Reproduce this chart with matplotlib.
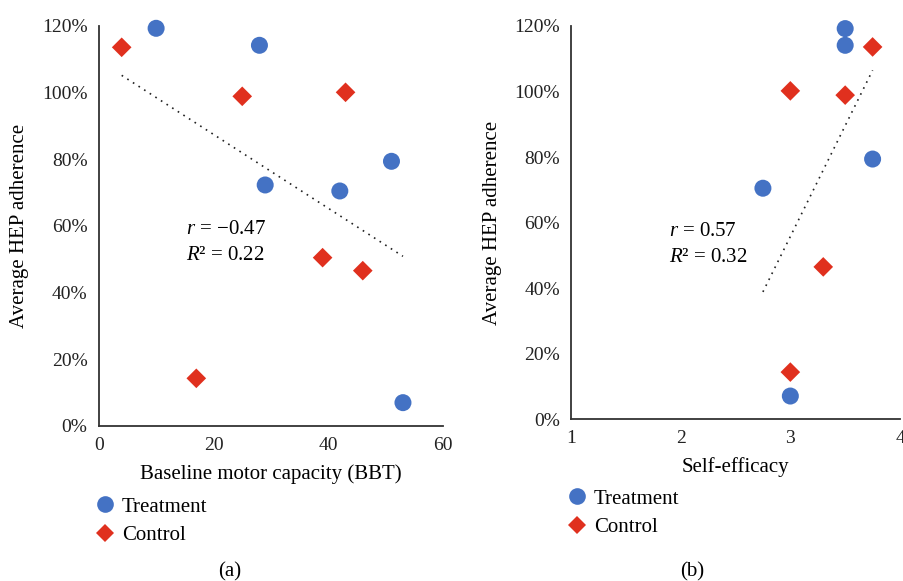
import numpy as np
import matplotlib
matplotlib.use("Agg")
import matplotlib.pyplot as plt
from matplotlib.lines import Line2D
from matplotlib.ticker import PercentFormatter

plt.rcParams['font.family'] = ['Liberation Serif', 'DejaVu Serif']
plt.rcParams['mathtext.fontset'] = 'custom'
plt.rcParams['mathtext.rm'] = 'Liberation Serif'
plt.rcParams['mathtext.it'] = 'Liberation Serif:italic'

# Panel (a): baseline motor capacity (BBT) vs adherence
bbt_treat = [10, 28, 29, 42, 51, 53]
adh_treat_a = [119.3, 114.2, 72.3, 70.5, 79.4, 7.0]
bbt_ctrl = [4, 25, 43, 17, 39, 46]
adh_ctrl_a = [113.6, 98.9, 100.1, 14.3, 50.5, 46.6]

# Panel (b): self-efficacy vs adherence
se_treat = [3.5, 3.5, 3.75, 2.75, 3.0]
adh_treat_b = [119.2, 114.1, 79.4, 70.5, 7.1]
se_ctrl = [3.75, 3.0, 3.5, 3.3, 3.0]
adh_ctrl_b = [113.6, 100.2, 98.9, 46.5, 14.4]

stats_a = ("$r$ = \u22120.47", "$R$\u00b2 = 0.22")
stats_b = ("$r$ = 0.57", "$R$\u00b2 = 0.32")

BLUE = '#4472C4'
RED = '#E0301E'
SPINE = '#333333'
FS = 15
TFS = 14

fig = plt.figure(figsize=(9.04, 5.81), dpi=100)
axA = fig.add_axes([0.1092, 0.2668, 0.381, 0.6885])
axB = fig.add_axes([0.6316, 0.2783, 0.364, 0.677])


def style(ax, xlim, xticks):
    ax.set_xlim(*xlim)
    ax.set_ylim(0, 120)
    ax.set_xticks(xticks)
    ax.set_yticks(np.arange(0, 121, 20))
    ax.yaxis.set_major_formatter(PercentFormatter(decimals=0))
    for s in ('top', 'right'):
        ax.spines[s].set_visible(False)
    for s in ('left', 'bottom'):
        ax.spines[s].set_color(SPINE)
        ax.spines[s].set_linewidth(1.3)
    ax.tick_params(length=0, labelsize=TFS, colors='#222222', pad=8)


def panel(ax, xt, yt, xc, yc):
    xs = np.array(xt + xc, dtype=float)
    ys = np.array(yt + yc, dtype=float)
    m, b = np.polyfit(xs, ys, 1)
    xx = np.array([xs.min(), xs.max()])
    ax.plot(xx, m * xx + b, linestyle=(0, (1, 3)), color='#222222', lw=1.2, zorder=1)
    ax.scatter(xt, yt, s=150, marker='o', color=BLUE, edgecolors='none', zorder=3, clip_on=False)
    ax.scatter(xc, yc, s=100, marker='D', color=RED, edgecolors='none', zorder=3, clip_on=False)


panel(axA, bbt_treat, adh_treat_a, bbt_ctrl, adh_ctrl_a)
panel(axB, se_treat, adh_treat_b, se_ctrl, adh_ctrl_b)
style(axA, (0, 60), [0, 20, 40, 60])
style(axB, (1, 4), [1, 2, 3, 4])

axA.set_xlabel('Baseline motor capacity (BBT)', fontsize=FS, labelpad=7)
axB.set_xlabel('Self-efficacy', fontsize=FS, labelpad=7)
axA.set_ylabel('Average HEP adherence', fontsize=FS, labelpad=9)
axB.set_ylabel('Average HEP adherence', fontsize=FS, labelpad=9)

axA.text(15.2, 58.8, stats_a[0], fontsize=FS, va='center', ha='left')
axA.text(15.2, 51.0, stats_a[1], fontsize=FS, va='center', ha='left')
axB.text(1.89, 57.2, stats_b[0], fontsize=FS, va='center', ha='left')
axB.text(1.89, 49.5, stats_b[1], fontsize=FS, va='center', ha='left')

handles = [Line2D([], [], marker='o', ls='none', color=BLUE, markersize=12, markeredgewidth=0),
           Line2D([], [], marker='D', ls='none', color=RED, markersize=9, markeredgewidth=0)]
labels = ['Treatment', 'Control']
for anchor in ((94.6 / 904, 1 - 497 / 581), (566.6 / 904, 1 - 489 / 581)):
    fig.legend(handles, labels, loc='upper left', bbox_to_anchor=anchor,
               frameon=False, fontsize=FS, handletextpad=0.32, labelspacing=0.42,
               handlelength=1.0, borderaxespad=0, borderpad=0)

fig.text(230 / 904, 1 - 572 / 581, '(a)', fontsize=FS, ha='center', va='center')
fig.text(692 / 904, 1 - 572 / 581, '(b)', fontsize=FS, ha='center', va='center')

fig.savefig('out.png', dpi=100)
